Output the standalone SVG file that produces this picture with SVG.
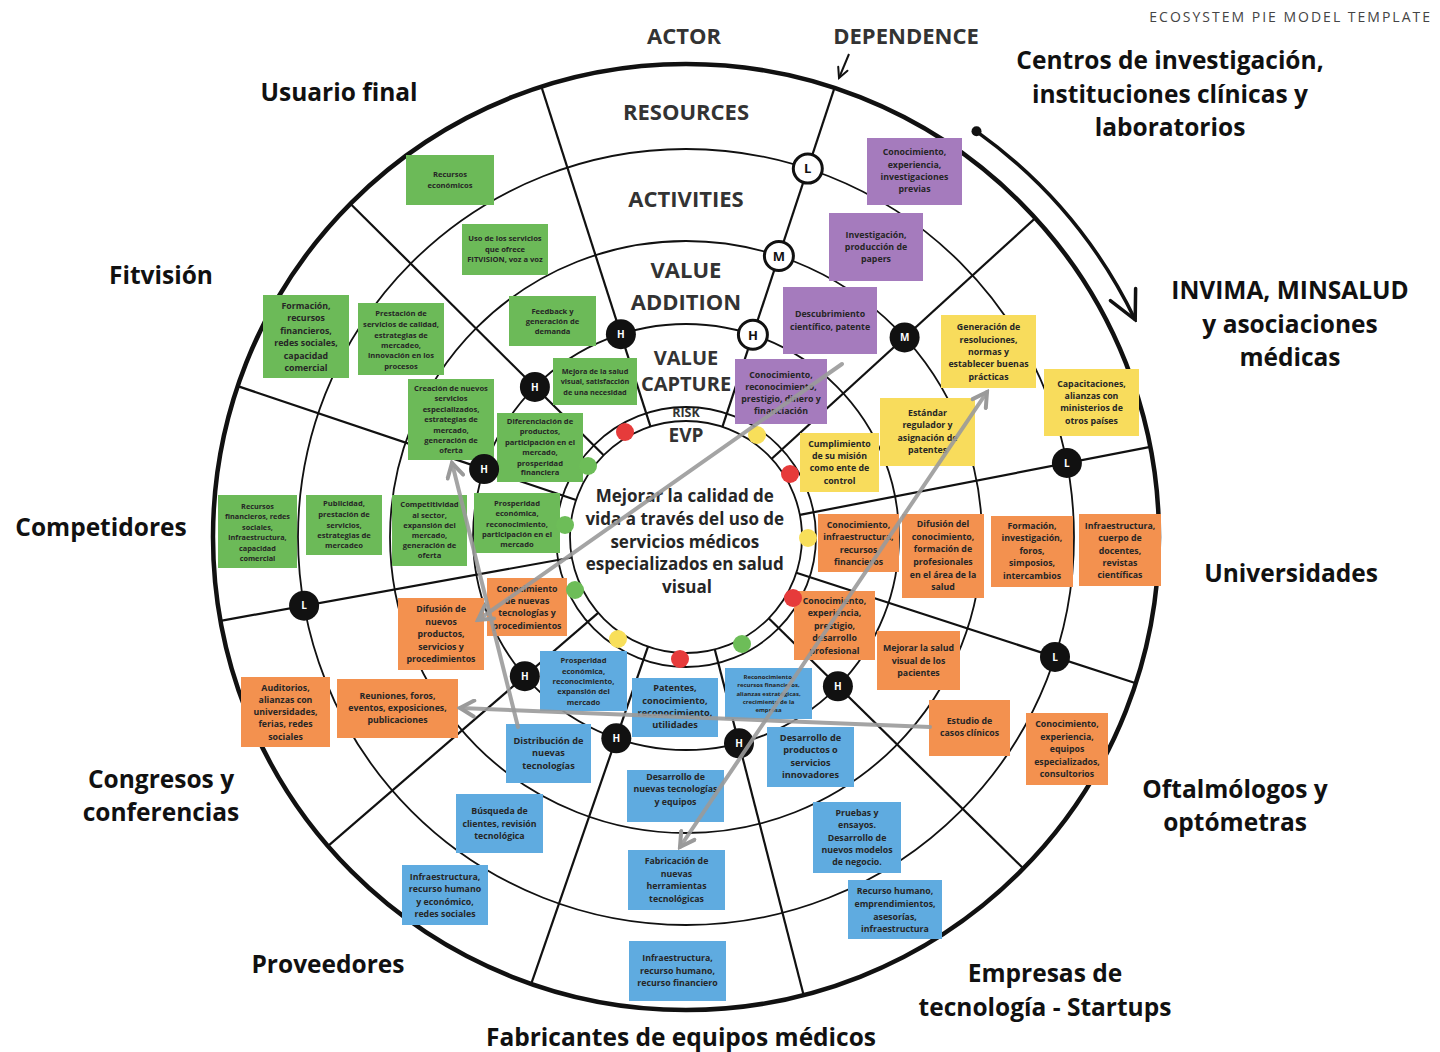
<svg xmlns="http://www.w3.org/2000/svg" width="1440" height="1052" viewBox="0 0 1440 1052">
<defs>
<style>
.ring{fill:none;stroke:#111;stroke-width:1.8}
.outer{fill:none;stroke:#111;stroke-width:4.5}
.div{stroke:#111;stroke-width:2.2}
.hdr{font-family:"Open Sans","Liberation Sans",sans-serif;font-weight:700;fill:#333;text-anchor:middle}
.act{font-family:"Open Sans","Liberation Sans",sans-serif;font-weight:700;fill:#111;text-anchor:middle;font-size:24.5px}
.nt{font-family:"Open Sans","Liberation Sans",sans-serif;font-weight:700;fill:#262626;text-anchor:middle}
.s{font-size:7.6px}
.m{font-size:8.8px}
.g{fill:#6cba58}
.o{fill:#f3914f}
.b{fill:#5fabe0}
.p{fill:#a57bbd}
.y{fill:#f8dc5c}
.mk{fill:#111}
.mkt{font-family:"Open Sans","Liberation Sans",sans-serif;font-weight:700;fill:#fff;font-size:10px;text-anchor:middle}
.lg{fill:#fff;stroke:#111;stroke-width:3}
.lgt{font-family:"Open Sans","Liberation Sans",sans-serif;font-weight:700;fill:#111;font-size:13px;text-anchor:middle}
.arr{fill:none;stroke:#9a9a9a;stroke-width:4;stroke-opacity:0.9;stroke-linecap:round}
</style>
<marker id="gh" viewBox="0 0 20 20" refX="17" refY="10" markerWidth="20" markerHeight="20" markerUnits="userSpaceOnUse" orient="auto-start-reverse">
<path d="M3,2 L17,10 L3,18" fill="none" stroke="#9a9a9a" stroke-width="4" stroke-linecap="round"/>
</marker>
<marker id="bh" viewBox="0 0 34 34" refX="31" refY="17" markerWidth="34" markerHeight="34" markerUnits="userSpaceOnUse" orient="auto">
<path d="M3,3 L31,17 L3,31" fill="none" stroke="#111" stroke-width="3.5" stroke-linecap="round"/>
</marker>
<marker id="sh" viewBox="0 0 14 14" refX="12" refY="7" markerWidth="14" markerHeight="14" markerUnits="userSpaceOnUse" orient="auto">
<path d="M2,2 L12,7 L2,12" fill="none" stroke="#111" stroke-width="2" stroke-linecap="round"/>
</marker>
</defs>
<rect width="1440" height="1052" fill="#fff"/>

<g id="rings">
<circle class="outer" cx="686" cy="537" r="473"/>
<circle class="ring" cx="686" cy="537" r="388"/>
<circle class="ring" cx="686" cy="537" r="296"/>
<circle class="ring" cx="686" cy="537" r="213"/>
<circle class="ring" cx="686" cy="537" r="130"/>
<circle class="ring" cx="686" cy="537" r="116" fill="#fff"/>
</g>

<g id="dividers">
<line class="div" x1="650.5" y1="426.6" x2="541.4" y2="86.7"/>
<line class="div" x1="722.4" y1="426.9" x2="834.5" y2="87.9"/>
<line class="div" x1="771.7" y1="458.8" x2="1035.3" y2="218.1"/>
<line class="div" x1="799.9" y1="514.9" x2="1150.3" y2="446.8"/>
<line class="div" x1="796.3" y1="572.8" x2="1135.9" y2="683.2"/>
<line class="div" x1="768.7" y1="618.3" x2="1023.4" y2="868.5"/>
<line class="div" x1="714.8" y1="649.4" x2="803.6" y2="995.1"/>
<line class="div" x1="648.0" y1="646.6" x2="531.2" y2="983.9"/>
<line class="div" x1="598.2" y1="612.8" x2="327.9" y2="846.1"/>
<line class="div" x1="571.8" y1="557.5" x2="220.5" y2="620.8"/>
<line class="div" x1="576.1" y1="500.0" x2="237.7" y2="386.1"/>
<line class="div" x1="603.7" y1="455.3" x2="350.4" y2="203.7"/>
</g>

<g id="header">
<text class="hdr" x="684" y="44" font-size="22">ACTOR</text>
<text class="hdr" x="906" y="44" font-size="22">DEPENDENCE</text>
<text class="hdr" x="686" y="120" font-size="22">RESOURCES</text>
<text class="hdr" x="686" y="207" font-size="22">ACTIVITIES</text>
<text class="hdr" x="686" y="278" font-size="22">VALUE</text>
<text class="hdr" x="686" y="310" font-size="22">ADDITION</text>
<text class="hdr" x="686" y="365" font-size="20">VALUE</text>
<text class="hdr" x="686" y="391" font-size="20">CAPTURE</text>
<text class="hdr" x="686" y="417" font-size="12.5">RISK</text>
<text class="hdr" x="686" y="442" font-size="19">EVP</text>
<text x="1432" y="22" text-anchor="end" font-family="'Open Sans','Liberation Sans',sans-serif" font-size="14" letter-spacing="2" fill="#444">ECOSYSTEM PIE MODEL TEMPLATE</text>
</g>

<g id="evp">
<text class="nt" font-size="17" fill="#1a1a1a">
<tspan x="687" y="502">Mejorar la calidad de</tspan>
<tspan x="687" y="525">vida a través del uso de</tspan>
<tspan x="687" y="548">servicios médicos</tspan>
<tspan x="687" y="570">especializados en salud</tspan>
<tspan x="687" y="593">visual</tspan>
</text>
</g>

<g id="actors">
<text class="act" x="339" y="101">Usuario final</text>
<text class="act"><tspan x="1170" y="69">Centros de investigación,</tspan><tspan x="1170" y="103">instituciones clínicas y</tspan><tspan x="1170" y="136">laboratorios</tspan></text>
<text class="act" x="161" y="284">Fitvisión</text>
<text class="act"><tspan x="1290" y="299">INVIMA, MINSALUD</tspan><tspan x="1290" y="333">y asociaciones</tspan><tspan x="1290" y="366">médicas</tspan></text>
<text class="act" x="101" y="536">Competidores</text>
<text class="act" x="1291" y="582">Universidades</text>
<text class="act"><tspan x="161" y="788">Congresos y</tspan><tspan x="161" y="821">conferencias</tspan></text>
<text class="act"><tspan x="1235" y="798">Oftalmólogos y</tspan><tspan x="1235" y="831">optómetras</tspan></text>
<text class="act" x="328" y="973">Proveedores</text>
<text class="act"><tspan x="1045" y="982">Empresas de</tspan><tspan x="1045" y="1016">tecnología - Startups</tspan></text>
<text class="act" x="681" y="1046">Fabricantes de equipos médicos</text>
</g>

<g id="notes">
<g id="n1"><rect class="g" x="406" y="155" width="88" height="50"/><text class="nt s"><tspan x="450" y="177">Recursos</tspan><tspan x="450" y="188">económicos</tspan></text></g>
<g id="n2"><rect class="g" x="462" y="224" width="86" height="51"/><text class="nt s"><tspan x="505" y="241">Uso de los servicios</tspan><tspan x="505" y="252">que ofrece</tspan><tspan x="505" y="262">FITVISION, voz a voz</tspan></text></g>
<g id="n3"><rect class="g" x="509" y="296" width="87" height="50"/><text class="nt s"><tspan x="552.5" y="314">Feedback y</tspan><tspan x="552.5" y="324">generación de</tspan><tspan x="552.5" y="334">demanda</tspan></text></g>
<g id="n4"><rect class="g" x="263" y="295" width="86" height="83"/><text class="nt m"><tspan x="306" y="309">Formación,</tspan><tspan x="306" y="321">recursos</tspan><tspan x="306" y="334">financieros,</tspan><tspan x="306" y="346">redes sociales,</tspan><tspan x="306" y="359">capacidad</tspan><tspan x="306" y="371">comercial</tspan></text></g>
<g id="n5"><rect class="g" x="358" y="303" width="86" height="72"/><text class="nt s"><tspan x="401" y="316">Prestación de</tspan><tspan x="401" y="327">servicios de calidad,</tspan><tspan x="401" y="338">estrategias de</tspan><tspan x="401" y="348">mercadeo,</tspan><tspan x="401" y="358">innovación en los</tspan><tspan x="401" y="369">procesos</tspan></text></g>
<g id="n6"><rect class="g" x="553" y="358" width="84" height="47"/><text class="nt s" style="font-size:7.3px"><tspan x="595" y="374">Mejora de la salud</tspan><tspan x="595" y="384">visual, satisfacción</tspan><tspan x="595" y="395">de una necesidad</tspan></text></g>
<g id="n7"><rect class="g" x="408" y="379" width="86" height="81"/><text class="nt s"><tspan x="451" y="391">Creación de nuevos</tspan><tspan x="451" y="401">servicios</tspan><tspan x="451" y="412">especializados,</tspan><tspan x="451" y="422">estrategias de</tspan><tspan x="451" y="433">mercado,</tspan><tspan x="451" y="443">generación de</tspan><tspan x="451" y="453">oferta</tspan></text></g>
<g id="n8"><rect class="g" x="497" y="413" width="86" height="69"/><text class="nt s"><tspan x="540" y="424">Diferenciación de</tspan><tspan x="540" y="434">productos,</tspan><tspan x="540" y="445">participación en  el</tspan><tspan x="540" y="455">mercado,</tspan><tspan x="540" y="466">prosperidad</tspan><tspan x="540" y="475">financiera</tspan></text></g>
<g id="n9"><rect class="g" x="218" y="495" width="79" height="73"/><text class="nt s" style="font-size:7.3px"><tspan x="257.5" y="509">Recursos</tspan><tspan x="257.5" y="519">financieros, redes</tspan><tspan x="257.5" y="530">sociales,</tspan><tspan x="257.5" y="540">infraestructura,</tspan><tspan x="257.5" y="551">capacidad</tspan><tspan x="257.5" y="561">comercial</tspan></text></g>
<g id="n10"><rect class="g" x="306" y="495" width="76" height="60"/><text class="nt s"><tspan x="344" y="506">Publicidad,</tspan><tspan x="344" y="517">prestación de</tspan><tspan x="344" y="528">servicios,</tspan><tspan x="344" y="538">estrategias de</tspan><tspan x="344" y="548">mercadeo</tspan></text></g>
<g id="n11"><rect class="g" x="392" y="495" width="75" height="71"/><text class="nt s"><tspan x="429.5" y="507">Competitividad</tspan><tspan x="429.5" y="518">al sector,</tspan><tspan x="429.5" y="528">expansión del</tspan><tspan x="429.5" y="538">mercado,</tspan><tspan x="429.5" y="548">generación de</tspan><tspan x="429.5" y="558">oferta</tspan></text></g>
<g id="n12"><rect class="g" x="474" y="493" width="86" height="60"/><text class="nt s"><tspan x="517" y="506">Prosperidad</tspan><tspan x="517" y="516">económica,</tspan><tspan x="517" y="527">reconocimiento,</tspan><tspan x="517" y="537">participación en el</tspan><tspan x="517" y="547">mercado</tspan></text></g>

<g id="n13"><rect class="o" x="487" y="578" width="80" height="58"/><text class="nt m"><tspan x="527" y="592">Conocimiento</tspan><tspan x="527" y="604">de nuevas</tspan><tspan x="527" y="616">tecnologías y</tspan><tspan x="527" y="629">procedimientos</tspan></text></g>
<g id="n14"><rect class="o" x="398" y="598" width="86" height="72"/><text class="nt m"><tspan x="441" y="612">Difusión de</tspan><tspan x="441" y="625">nuevos</tspan><tspan x="441" y="637">productos,</tspan><tspan x="441" y="650">servicios y</tspan><tspan x="441" y="662">procedimientos</tspan></text></g>
<g id="n15"><rect class="o" x="241" y="677" width="89" height="70"/><text class="nt m"><tspan x="285.5" y="691">Auditorios,</tspan><tspan x="285.5" y="703">alianzas con</tspan><tspan x="285.5" y="715">universidades,</tspan><tspan x="285.5" y="727">ferias, redes</tspan><tspan x="285.5" y="740">sociales</tspan></text></g>
<g id="n16"><rect class="o" x="337" y="679" width="121" height="59"/><text class="nt m"><tspan x="397.5" y="699">Reuniones, foros,</tspan><tspan x="397.5" y="711">eventos, exposiciones,</tspan><tspan x="397.5" y="723">publicaciones</tspan></text></g>
<g id="n17"><rect class="o" x="818" y="514" width="81" height="58"/><text class="nt m"><tspan x="858.5" y="528">Conocimiento,</tspan><tspan x="858.5" y="540">infraestructura,</tspan><tspan x="858.5" y="553">recursos</tspan><tspan x="858.5" y="565">financieros</tspan></text></g>
<g id="n18"><rect class="o" x="902" y="514" width="82" height="84"/><text class="nt m"><tspan x="943" y="527">Difusión del</tspan><tspan x="943" y="540">conocimiento,</tspan><tspan x="943" y="552">formación de</tspan><tspan x="943" y="565">profesionales</tspan><tspan x="943" y="578">en el área de la</tspan><tspan x="943" y="590">salud</tspan></text></g>
<g id="n19"><rect class="o" x="991" y="516" width="82" height="71"/><text class="nt m"><tspan x="1032" y="529">Formación,</tspan><tspan x="1032" y="541">investigación,</tspan><tspan x="1032" y="554">foros,</tspan><tspan x="1032" y="566">simposios,</tspan><tspan x="1032" y="579">intercambios</tspan></text></g>
<g id="n20"><rect class="o" x="1079" y="514" width="82" height="72"/><text class="nt m"><tspan x="1120" y="529">Infraestructura,</tspan><tspan x="1120" y="541">cuerpo de</tspan><tspan x="1120" y="554">docentes,</tspan><tspan x="1120" y="566">revistas</tspan><tspan x="1120" y="578">científicas</tspan></text></g>
<g id="n21"><rect class="o" x="794" y="591" width="81" height="69"/><text class="nt m"><tspan x="834.5" y="604">Conocimiento,</tspan><tspan x="834.5" y="616">experiencia,</tspan><tspan x="834.5" y="629">prestigio,</tspan><tspan x="834.5" y="641">desarrollo</tspan><tspan x="834.5" y="654">profesional</tspan></text></g>
<g id="n22"><rect class="o" x="877" y="631" width="83" height="59"/><text class="nt m"><tspan x="918.5" y="651">Mejorar la salud</tspan><tspan x="918.5" y="664">visual de los</tspan><tspan x="918.5" y="676">pacientes</tspan></text></g>
<g id="n23"><rect class="o" x="929" y="700" width="81" height="56"/><text class="nt m"><tspan x="969.5" y="724">Estudio de</tspan><tspan x="969.5" y="736">casos clínicos</tspan></text></g>
<g id="n24"><rect class="o" x="1026" y="713" width="82" height="72"/><text class="nt m"><tspan x="1067" y="727">Conocimiento,</tspan><tspan x="1067" y="740">experiencia,</tspan><tspan x="1067" y="752">equipos</tspan><tspan x="1067" y="765">especializados,</tspan><tspan x="1067" y="777">consultorios</tspan></text></g>

<g id="n25"><rect class="b" x="540" y="651" width="87" height="60"/><text class="nt s"><tspan x="583.5" y="663">Prosperidad</tspan><tspan x="583.5" y="674">económica,</tspan><tspan x="583.5" y="684">reconocimiento,</tspan><tspan x="583.5" y="694">expansión del</tspan><tspan x="583.5" y="705">mercado</tspan></text></g>
<g id="n26"><rect class="b" x="632" y="678" width="86" height="59"/><text class="nt" style="font-size:9.2px"><tspan x="675" y="691">Patentes,</tspan><tspan x="675" y="704">conocimiento,</tspan><tspan x="675" y="716">reconocimiento,</tspan><tspan x="675" y="728">utilidades</tspan></text></g>
<g id="n27"><rect class="b" x="725" y="668" width="87" height="51"/><text class="nt" style="font-size:6px"><tspan x="768.5" y="679">Reconocimiento,</tspan><tspan x="768.5" y="687">recursos financieros,</tspan><tspan x="768.5" y="696">alianzas estratégicas,</tspan><tspan x="768.5" y="704">crecimiento de la</tspan><tspan x="768.5" y="712">empresa</tspan></text></g>
<g id="n28"><rect class="b" x="506" y="724" width="85" height="59"/><text class="nt" style="font-size:9.2px"><tspan x="548.5" y="744">Distribución de</tspan><tspan x="548.5" y="756">nuevas</tspan><tspan x="548.5" y="769">tecnologías</tspan></text></g>
<g id="n29"><rect class="b" x="767" y="727" width="87" height="60"/><text class="nt" style="font-size:9.2px"><tspan x="810.5" y="741">Desarrollo de</tspan><tspan x="810.5" y="753">productos o</tspan><tspan x="810.5" y="766">servicios</tspan><tspan x="810.5" y="778">innovadores</tspan></text></g>
<g id="n30"><rect class="b" x="627" y="770" width="97" height="52"/><text class="nt m"><tspan x="675.5" y="780">Desarrollo de</tspan><tspan x="675.5" y="792">nuevas tecnologías</tspan><tspan x="675.5" y="805">y equipos</tspan></text></g>
<g id="n31"><rect class="b" x="456" y="794" width="87" height="59"/><text class="nt m"><tspan x="499.5" y="814">Búsqueda de</tspan><tspan x="499.5" y="827">clientes, revisión</tspan><tspan x="499.5" y="839">tecnológica</tspan></text></g>
<g id="n32"><rect class="b" x="628" y="850" width="97" height="60"/><text class="nt m"><tspan x="676.5" y="864">Fabricación de</tspan><tspan x="676.5" y="877">nuevas</tspan><tspan x="676.5" y="889">herramientas</tspan><tspan x="676.5" y="902">tecnológicas</tspan></text></g>
<g id="n33"><rect class="b" x="813" y="802" width="88" height="71"/><text class="nt m"><tspan x="857" y="816">Pruebas y</tspan><tspan x="857" y="828">ensayos.</tspan><tspan x="857" y="841">Desarrollo de</tspan><tspan x="857" y="853">nuevos modelos</tspan><tspan x="857" y="865">de negocio.</tspan></text></g>
<g id="n34"><rect class="b" x="402" y="865" width="86" height="60"/><text class="nt m"><tspan x="445" y="880">Infraestructura,</tspan><tspan x="445" y="892">recurso humano</tspan><tspan x="445" y="905">y económico,</tspan><tspan x="445" y="917">redes sociales</tspan></text></g>
<g id="n35"><rect class="b" x="848" y="880" width="94" height="59"/><text class="nt m"><tspan x="895" y="894">Recurso humano,</tspan><tspan x="895" y="907">emprendimientos,</tspan><tspan x="895" y="920">asesorías,</tspan><tspan x="895" y="932">infraestructura</tspan></text></g>
<g id="n36"><rect class="b" x="629" y="941" width="97" height="60"/><text class="nt m"><tspan x="677.5" y="961">Infraestructura,</tspan><tspan x="677.5" y="974">recurso humano,</tspan><tspan x="677.5" y="986">recurso financiero</tspan></text></g>

<g id="n37"><rect class="p" x="867" y="138" width="95" height="67"/><text class="nt m"><tspan x="914.5" y="155">Conocimiento,</tspan><tspan x="914.5" y="168">experiencia,</tspan><tspan x="914.5" y="180">investigaciones</tspan><tspan x="914.5" y="192">previas</tspan></text></g>
<g id="n38"><rect class="p" x="829" y="213" width="94" height="68"/><text class="nt m"><tspan x="876" y="238">Investigación,</tspan><tspan x="876" y="250">producción de</tspan><tspan x="876" y="262">papers</tspan></text></g>
<g id="n39"><rect class="p" x="783" y="287" width="94" height="67"/><text class="nt m"><tspan x="830" y="317">Descubrimiento</tspan><tspan x="830" y="330">científico, patente</tspan></text></g>
<g id="n40"><rect class="p" x="735" y="359" width="92" height="65"/><text class="nt m"><tspan x="781" y="378">Conocimiento,</tspan><tspan x="781" y="390">reconocimiento,</tspan><tspan x="781" y="402">prestigio, dinero y</tspan><tspan x="781" y="414">financiación</tspan></text></g>

<g id="n41"><rect class="y" x="941" y="315" width="95" height="73"/><text class="nt m"><tspan x="988.5" y="330">Generación de</tspan><tspan x="988.5" y="343">resoluciones,</tspan><tspan x="988.5" y="355">normas y</tspan><tspan x="988.5" y="367">establecer buenas</tspan><tspan x="988.5" y="380">prácticas</tspan></text></g>
<g id="n42"><rect class="y" x="1044" y="369" width="95" height="67"/><text class="nt m"><tspan x="1091.5" y="387">Capacitaciones,</tspan><tspan x="1091.5" y="399">alianzas con</tspan><tspan x="1091.5" y="411">ministerios de</tspan><tspan x="1091.5" y="424">otros países</tspan></text></g>
<g id="n43"><rect class="y" x="880" y="398" width="95" height="68"/><text class="nt m"><tspan x="927.5" y="416">Estándar</tspan><tspan x="927.5" y="428">regulador y</tspan><tspan x="927.5" y="441">asignación de</tspan><tspan x="927.5" y="453">patentes</tspan></text></g>
<g id="n44"><rect class="y" x="800" y="433" width="79" height="59"/><text class="nt m"><tspan x="839.5" y="447">Cumplimiento</tspan><tspan x="839.5" y="459">de su misión</tspan><tspan x="839.5" y="471">como ente de</tspan><tspan x="839.5" y="484">control</tspan></text></g>
</g>

<g id="risk">
<circle cx="625" cy="432" r="9" fill="#e63b3b"/>
<circle cx="588" cy="466" r="9" fill="#6dbd58"/>
<circle cx="565" cy="525" r="9" fill="#6dbd58"/>
<circle cx="575" cy="590" r="9" fill="#6dbd58"/>
<circle cx="618" cy="639" r="9" fill="#f8df5a"/>
<circle cx="680" cy="659" r="9" fill="#e63b3b"/>
<circle cx="742" cy="644" r="9" fill="#6dbd58"/>
<circle cx="793" cy="598" r="9" fill="#e63b3b"/>
<circle cx="808" cy="538" r="9" fill="#f8df5a"/>
<circle cx="790" cy="474" r="9" fill="#e63b3b"/>
<circle cx="757" cy="435" r="9" fill="#f8df5a"/>
</g>

<g id="dependence">
<g><circle class="lg" cx="807.8" cy="168.6" r="14.5"/><text class="lgt" x="807.8" y="173.3">L</text></g>
<g><circle class="lg" cx="778.9" cy="256" r="14.5"/><text class="lgt" x="778.9" y="260.7">M</text></g>
<g><circle class="lg" cx="752.9" cy="334.8" r="14.5"/><text class="lgt" x="752.9" y="339.5">H</text></g>
<g><circle class="mk" cx="620.9" cy="334.2" r="15"/><text class="mkt" x="620.9" y="337.8">H</text></g>
<g><circle class="mk" cx="904.6" cy="337.4" r="15"/><text class="mkt" x="904.6" y="341">M</text></g>
<g><circle class="mk" cx="534.9" cy="386.9" r="15"/><text class="mkt" x="534.9" y="390.5">H</text></g>
<g><circle class="mk" cx="484.1" cy="469.1" r="15"/><text class="mkt" x="484.1" y="472.7">H</text></g>
<g><circle class="mk" cx="1066.9" cy="463" r="15"/><text class="mkt" x="1066.9" y="466.6">L</text></g>
<g><circle class="mk" cx="304.1" cy="605.7" r="15"/><text class="mkt" x="304.1" y="609.3">L</text></g>
<g><circle class="mk" cx="1055" cy="656.9" r="15"/><text class="mkt" x="1055" y="660.5">L</text></g>
<g><circle class="mk" cx="524.8" cy="676.2" r="15"/><text class="mkt" x="524.8" y="679.8">H</text></g>
<g><circle class="mk" cx="616.3" cy="738.3" r="15"/><text class="mkt" x="616.3" y="741.9">H</text></g>
<g><circle class="mk" cx="739" cy="743.3" r="15"/><text class="mkt" x="739" y="746.9">H</text></g>
<g><circle class="mk" cx="837.9" cy="686.3" r="15"/><text class="mkt" x="837.9" y="689.9">H</text></g>
</g>

<g id="connectors">
<line class="arr" x1="842" y1="364" x2="478" y2="620" marker-end="url(#gh)"/>
<line class="arr" x1="518" y1="727" x2="452" y2="463" marker-end="url(#gh)"/>
<line class="arr" x1="930" y1="727" x2="460" y2="708" marker-end="url(#gh)"/>
<line class="arr" x1="680" y1="847" x2="987" y2="392" marker-start="url(#gh)" marker-end="url(#gh)"/>
<path d="M976.5,131.3 A499,499 0 0 1 1135.2,319.8" fill="none" stroke="#111" stroke-width="3.5" marker-end="url(#bh)"/>
<circle cx="976.5" cy="131.3" r="5" fill="#111"/>
<line x1="849" y1="54" x2="839" y2="78" stroke="#111" stroke-width="2" marker-end="url(#sh)"/>
</g>
</svg>
